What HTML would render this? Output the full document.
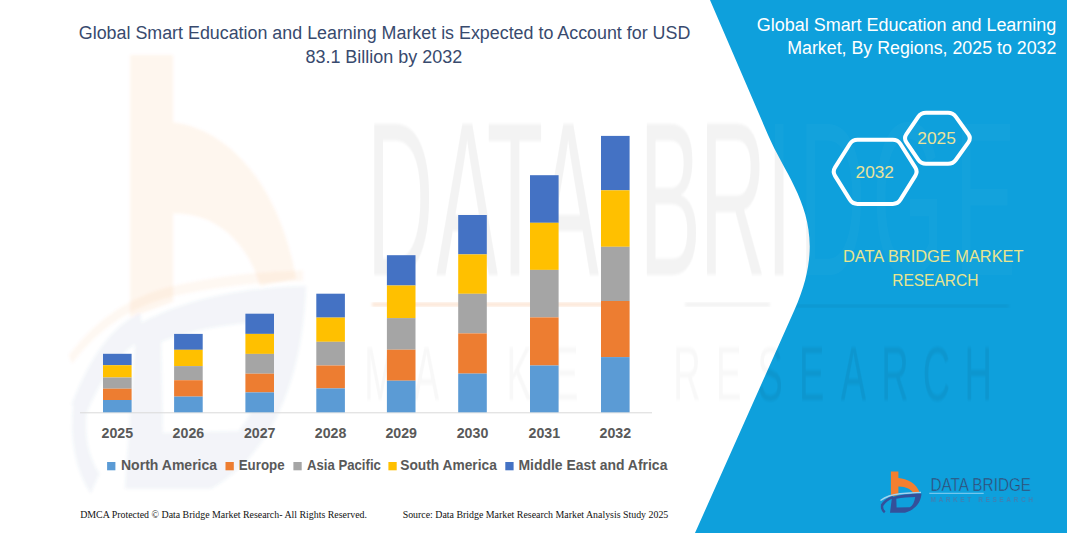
<!DOCTYPE html>
<html><head><meta charset="utf-8"><style>
html,body{margin:0;padding:0;background:#fff;}
svg{display:block;}
text{font-family:"Liberation Sans",sans-serif;}
.yr{font-weight:bold;font-size:14.2px;fill:#595959;}
.lg{font-weight:bold;font-size:14.4px;fill:#595959;}
.ttl{font-size:18px;fill:#384A6E;}
.rt{font-size:18px;fill:#ffffff;}
.hx{font-size:17px;fill:#EAE39A;}
.db{font-size:17px;fill:#E8E58F;}
.ft{font-family:"Liberation Serif",serif;font-size:9.5px;fill:#111;}
</style></head><body>
<svg width="1067" height="533" viewBox="0 0 1067 533">
<defs><filter id="bl" x="-5%" y="-5%" width="110%" height="110%"><feGaussianBlur stdDeviation="1.5"/></filter><filter id="bl3" x="-10%" y="-10%" width="120%" height="120%"><feGaussianBlur stdDeviation="3"/></filter></defs>
<rect width="1067" height="533" fill="#fff"/>
<!-- watermark logo -->
<g filter="url(#bl)">
<g transform="matrix(5.75 0 0 10.5 -4992.6 -4895.75)">
  <path opacity="0.065" d="M890.9,471.5 L898.4,471.5 L898.4,477.9 C907,478.5 916.5,483 919.8,492.8 L913.5,493.5 C911.5,489.5 906,486.5 898.4,486.6 L898.4,495 L890.9,496.5 Z" fill="#ED7D31"/>
  <path opacity="0.05" d="M880.5,500.5 C886,496.5 893,494.5 900,493.8 C907,493 914,492.6 921,492.5" stroke="#ED7D31" stroke-width="1" fill="none"/>
  <g opacity="0.065">
  <path d="M892,497.3 C899,495 910,493.6 921.5,493.5 C921,501 917,509 905,512.8 L890,512.8 Z M896.3,498.8 C902,497.6 909,497 915.2,496.9 C914.4,502 912.8,505.5 909.8,507.3 L896.6,507.5 Z" fill="#3F5FA8" fill-rule="evenodd"/>
  <path d="M881.8,505.5 C885,501 888.5,498.5 893,497.3" stroke="#3F5FA8" stroke-width="2.6" fill="none"/>
  <path d="M882.2,505 C881.6,508 882.6,510.5 884.8,512.3" stroke="#3F5FA8" stroke-width="2.4" fill="none"/>
  </g>
</g>
</g>
<text transform="scale(0.42,1)" x="952.4 1111.9 1226.2 1352.4 1595.2 1745.2 1854.8 1981.0 2161.9 2345.2" y="275" text-anchor="middle" style="font-family:'Liberation Sans',sans-serif;font-size:220px" fill="#F3F3F3" filter="url(#bl)">DATABRIDGE</text>
<rect x="372" y="302.5" width="250" height="4" fill="#FCE6D6" filter="url(#bl)"/>
<rect x="685" y="302.5" width="85" height="4" fill="#F2F2F2" filter="url(#bl)"/>
<text transform="scale(0.5,1)" x="760.0 852.8 945.6 1038.4 1131.2 1224.0 1374.0 1457.2 1540.4 1623.6 1706.8 1790.0 1873.2 1956.4" y="400" text-anchor="middle" style="font-family:'Liberation Sans',sans-serif;font-size:76px" fill="#F8F8F8" filter="url(#bl)">MARKETRESEARCH</text>
<!-- blue panel -->
<path d="M710 0 L1067 0 L1067 533 L695 533 L794.44 310 C832.8 224 789.55 185 768.05 135 Z" fill="#0EA0DC"/>
<clipPath id="pc"><path d="M710 0 L1067 0 L1067 533 L695 533 L794.44 310 C832.8 224 789.55 185 768.05 135 Z"/></clipPath>
<g clip-path="url(#pc)" opacity="0.025">
<text transform="scale(0.42,1)" x="952.4 1111.9 1226.2 1352.4 1595.2 1745.2 1854.8 1981.0 2161.9 2345.2" y="275" text-anchor="middle" style="font-family:'Liberation Sans',sans-serif;font-size:220px" fill="#ffffff">DATABRIDGE</text>
</g><g clip-path="url(#pc)" opacity="0.06"><text transform="scale(0.5,1)" x="760.0 852.8 945.6 1038.4 1131.2 1224.0 1374.0 1457.2 1540.4 1623.6 1706.8 1790.0 1873.2 1956.4" y="400" text-anchor="middle" style="font-family:'Liberation Sans',sans-serif;font-size:76px" fill="#000000" filter="url(#bl)">MARKETRESEARCH</text>
<rect x="795" y="304.5" width="214" height="3" fill="#000" filter="url(#bl)"/>
</g>
<!-- chart -->
<line x1="80" y1="412.8" x2="652" y2="412.8" stroke="#D9D9D9" stroke-width="1"/>
<rect x="103.0" y="353.8" width="28.6" height="11.4" fill="#4472C4"/>
<rect x="103.0" y="365.2" width="28.6" height="12.3" fill="#FFC000"/>
<rect x="103.0" y="377.5" width="28.6" height="11.2" fill="#A5A5A5"/>
<rect x="103.0" y="388.7" width="28.6" height="11.3" fill="#ED7D31"/>
<rect x="103.0" y="400.0" width="28.6" height="12.3" fill="#5B9BD5"/>
<rect x="174.1" y="333.9" width="28.6" height="15.9" fill="#4472C4"/>
<rect x="174.1" y="349.8" width="28.6" height="16.3" fill="#FFC000"/>
<rect x="174.1" y="366.1" width="28.6" height="14.1" fill="#A5A5A5"/>
<rect x="174.1" y="380.2" width="28.6" height="16.4" fill="#ED7D31"/>
<rect x="174.1" y="396.6" width="28.6" height="15.7" fill="#5B9BD5"/>
<rect x="245.4" y="313.7" width="28.6" height="20.2" fill="#4472C4"/>
<rect x="245.4" y="333.9" width="28.6" height="20.0" fill="#FFC000"/>
<rect x="245.4" y="353.9" width="28.6" height="19.8" fill="#A5A5A5"/>
<rect x="245.4" y="373.7" width="28.6" height="18.7" fill="#ED7D31"/>
<rect x="245.4" y="392.4" width="28.6" height="19.9" fill="#5B9BD5"/>
<rect x="316.3" y="293.7" width="28.6" height="23.9" fill="#4472C4"/>
<rect x="316.3" y="317.6" width="28.6" height="24.2" fill="#FFC000"/>
<rect x="316.3" y="341.8" width="28.6" height="23.7" fill="#A5A5A5"/>
<rect x="316.3" y="365.5" width="28.6" height="22.9" fill="#ED7D31"/>
<rect x="316.3" y="388.4" width="28.6" height="23.9" fill="#5B9BD5"/>
<rect x="386.9" y="255.2" width="28.6" height="30.3" fill="#4472C4"/>
<rect x="386.9" y="285.5" width="28.6" height="32.6" fill="#FFC000"/>
<rect x="386.9" y="318.1" width="28.6" height="31.6" fill="#A5A5A5"/>
<rect x="386.9" y="349.7" width="28.6" height="31.0" fill="#ED7D31"/>
<rect x="386.9" y="380.7" width="28.6" height="31.6" fill="#5B9BD5"/>
<rect x="458.2" y="215.0" width="28.6" height="39.4" fill="#4472C4"/>
<rect x="458.2" y="254.4" width="28.6" height="39.4" fill="#FFC000"/>
<rect x="458.2" y="293.8" width="28.6" height="39.6" fill="#A5A5A5"/>
<rect x="458.2" y="333.4" width="28.6" height="40.2" fill="#ED7D31"/>
<rect x="458.2" y="373.6" width="28.6" height="38.7" fill="#5B9BD5"/>
<rect x="530.0" y="175.2" width="28.6" height="47.6" fill="#4472C4"/>
<rect x="530.0" y="222.8" width="28.6" height="47.1" fill="#FFC000"/>
<rect x="530.0" y="269.9" width="28.6" height="47.5" fill="#A5A5A5"/>
<rect x="530.0" y="317.4" width="28.6" height="48.1" fill="#ED7D31"/>
<rect x="530.0" y="365.5" width="28.6" height="46.8" fill="#5B9BD5"/>
<rect x="601.0" y="135.9" width="28.6" height="54.4" fill="#4472C4"/>
<rect x="601.0" y="190.3" width="28.6" height="56.5" fill="#FFC000"/>
<rect x="601.0" y="246.8" width="28.6" height="54.2" fill="#A5A5A5"/>
<rect x="601.0" y="301.0" width="28.6" height="56.1" fill="#ED7D31"/>
<rect x="601.0" y="357.1" width="28.6" height="55.2" fill="#5B9BD5"/>
<text x="117.3" y="438" text-anchor="middle" class="yr">2025</text>
<text x="188.4" y="438" text-anchor="middle" class="yr">2026</text>
<text x="259.7" y="438" text-anchor="middle" class="yr">2027</text>
<text x="330.6" y="438" text-anchor="middle" class="yr">2028</text>
<text x="401.2" y="438" text-anchor="middle" class="yr">2029</text>
<text x="472.5" y="438" text-anchor="middle" class="yr">2030</text>
<text x="544.3" y="438" text-anchor="middle" class="yr">2031</text>
<text x="615.3" y="438" text-anchor="middle" class="yr">2032</text>
<rect x="107.1" y="462" width="8.3" height="8.3" fill="#5B9BD5"/>
<text x="121" y="470.2" class="lg" textLength="96.1" lengthAdjust="spacingAndGlyphs">North America</text>
<rect x="225.5" y="462" width="8.3" height="8.3" fill="#ED7D31"/>
<text x="238.7" y="470.2" class="lg" textLength="45.9" lengthAdjust="spacingAndGlyphs">Europe</text>
<rect x="293.4" y="462" width="8.3" height="8.3" fill="#A5A5A5"/>
<text x="306.9" y="470.2" class="lg" textLength="74.0" lengthAdjust="spacingAndGlyphs">Asia Pacific</text>
<rect x="388.4" y="462" width="8.3" height="8.3" fill="#FFC000"/>
<text x="400.2" y="470.2" class="lg" textLength="96.7" lengthAdjust="spacingAndGlyphs">South America</text>
<rect x="505.3" y="462" width="8.3" height="8.3" fill="#4472C4"/>
<text x="518.4" y="470.2" class="lg" textLength="149.0" lengthAdjust="spacingAndGlyphs">Middle East and Africa</text>
<!-- titles -->
<text x="78.8" y="39.4" class="ttl" textLength="611.5" lengthAdjust="spacingAndGlyphs">Global Smart Education and Learning Market is Expected to Account for USD</text>
<text x="305.4" y="62.6" class="ttl" textLength="156.9" lengthAdjust="spacingAndGlyphs">83.1 Billion by 2032</text>
<text x="756.8" y="31.1" class="rt" textLength="299.5" lengthAdjust="spacingAndGlyphs">Global Smart Education and Learning</text>
<text x="787.2" y="54" class="rt" textLength="269.2" lengthAdjust="spacingAndGlyphs">Market, By Regions, 2025 to 2032</text>
<!-- hexagons -->
<g fill="none" stroke="#fff" stroke-width="4">
  <path d="M906.42,142.43 Q903.60,138.30 906.42,134.17 L918.18,116.93 Q921.00,112.80 926.00,112.80 L948.00,112.80 Q953.00,112.80 955.92,116.86 L968.38,134.24 Q971.30,138.30 968.38,142.36 L955.92,159.74 Q953.00,163.80 948.00,163.80 L926.00,163.80 Q921.00,163.80 918.18,159.67 Z"/>
  <path d="M835.04,175.85 Q832.40,171.60 835.07,167.37 L849.83,144.03 Q852.50,139.80 857.50,139.80 L892.80,139.80 Q897.80,139.80 900.47,144.03 L915.23,167.37 Q917.90,171.60 915.26,175.85 L900.44,199.65 Q897.80,203.90 892.80,203.90 L857.50,203.90 Q852.50,203.90 849.86,199.65 Z"/>
</g>
<text x="917.3" y="143.9" class="hx" textLength="38.5" lengthAdjust="spacingAndGlyphs">2025</text>
<text x="855.6" y="177.7" class="hx" textLength="38.3" lengthAdjust="spacingAndGlyphs">2032</text>
<text x="843" y="262" class="db" textLength="180.5" lengthAdjust="spacingAndGlyphs">DATA BRIDGE MARKET</text>
<text x="892.2" y="285.8" class="db" textLength="86.2" lengthAdjust="spacingAndGlyphs">RESEARCH</text>
<!-- logo -->
<g>
  <path d="M890.9,471.5 L898.4,471.5 L898.4,477.9 C907,478.5 916.5,483 919.8,492.8 L913.5,493.5 C911.5,489.5 906,486.5 898.4,486.6 L898.4,495 L890.9,496.5 Z" fill="#F47F2F"/>
  <path d="M880.5,500.5 C886,496.5 893,494.5 900,493.8 C907,493 914,492.6 921,492.5" stroke="#A3D3EF" stroke-width="1.4" fill="none"/>
  <path d="M892,497.3 C899,495 910,493.6 921.5,493.5 C921,501 917,509 905,512.8 L890,512.8 Z M896.3,498.8 C902,497.6 909,497 915.2,496.9 C914.4,502 912.8,505.5 909.8,507.3 L896.6,507.5 Z" fill="#34509A" fill-rule="evenodd"/>
  <path d="M881.8,505.5 C885,501 888.5,498.5 893,497.3" stroke="#34509A" stroke-width="2.6" fill="none"/>
  <path d="M882.2,505 C881.6,508 882.6,510.5 884.8,512.3" stroke="#34509A" stroke-width="2.4" fill="none"/>
  <text x="930.4" y="490.5" style="font-family:'Liberation Sans',sans-serif;font-size:17.5px" fill="#34476E" stroke="#0EA0DC" stroke-width="0.45" textLength="100.7" lengthAdjust="spacingAndGlyphs">DATA BRIDGE</text>
  <line x1="929.3" y1="493.3" x2="983.7" y2="493.3" stroke="#8ED0F2" stroke-width="1"/>
  <text x="930.4" y="502.3" style="font-family:'Liberation Sans',sans-serif;font-size:6.4px;font-weight:bold" fill="#4F77A8" opacity="0.75" textLength="102.4" lengthAdjust="spacing">MARKET RESEARCH</text>
</g>
<!-- footer -->
<text x="80.2" y="517.9" class="ft" textLength="286.8" lengthAdjust="spacingAndGlyphs">DMCA Protected © Data Bridge Market Research-  All Rights Reserved.</text>
<text x="402.7" y="517.9" class="ft" textLength="265.6" lengthAdjust="spacingAndGlyphs">Source: Data Bridge Market Research  Market Analysis Study 2025</text>
</svg>
</body></html>
